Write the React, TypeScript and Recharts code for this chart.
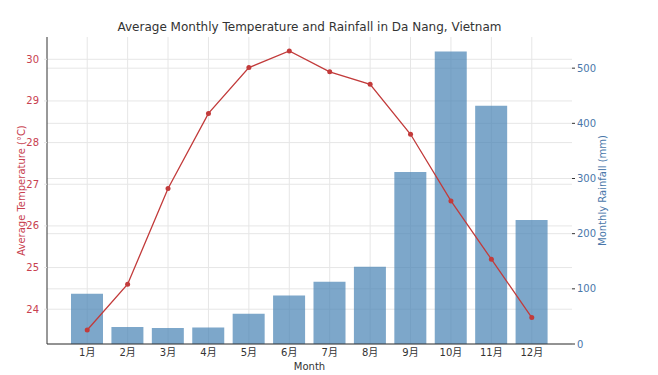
import { Bar, CartesianGrid, ComposedChart, Label, Line, XAxis, YAxis } from 'recharts'

const MONTHS = ['1月', '2月', '3月', '4月', '5月', '6月', '7月', '8月', '9月', '10月', '11月', '12月']
const TEMPERATURE = [23.5, 24.6, 26.9, 28.7, 29.8, 30.2, 29.7, 29.4, 28.2, 26.6, 25.2, 23.8]
const RAINFALL = [91, 31, 29, 30, 55, 88, 113, 140, 312, 530, 432, 225]
const TEMP_TICKS = [24, 25, 26, 27, 28, 29, 30]
const RAIN_TICKS = [0, 100, 200, 300, 400, 500]

const FONT = '"DejaVu Sans", "Noto Sans CJK SC", sans-serif'
const RED = '#c23b3b'
const RED_TEXT = '#c8414f'
const BLUE = '#4682b4'
const BLUE_TEXT = '#4a77aa'
const GRID = '#e6e6e6'
const INK = '#333333'

const data = MONTHS.map((month, i) => ({
  month,
  temp: TEMPERATURE[i],
  rain: RAINFALL[i]
}))

export default function App(): JSX.Element {
  return (
    <div style={{ position: 'absolute', left: 0, top: 0, width: 658, height: 375, background: '#fff', fontFamily: FONT }}>
      <div
        style={{
          position: 'absolute',
          left: 47,
          width: 525,
          top: 20,
          textAlign: 'center',
          fontSize: 12,
          color: '#333',
          whiteSpace: 'nowrap'
        }}
      >
        Average Monthly Temperature and Rainfall in Da Nang, Vietnam
      </div>
      <ComposedChart
        width={658}
        height={375}
        data={data}
        margin={{ top: 37, right: 0, bottom: 0, left: 0 }}
        style={{ fontFamily: FONT }}
      >
        <CartesianGrid yAxisId="temp" stroke={GRID} vertical horizontal syncWithTicks />
        <CartesianGrid yAxisId="rain" stroke={GRID} vertical={false} horizontal syncWithTicks />
        <XAxis
          dataKey="month"
          height={31}
          padding={{ left: 20, right: 20 }}
          axisLine={{ stroke: INK }}
          tickLine={false}
          tickSize={0}
          tickMargin={5}
          tick={{ fill: INK, fontSize: 10 }}
        >
          <Label value="Month" position="insideBottom" offset={5} style={{ fill: INK, fontSize: 10 }} />
        </XAxis>
        <YAxis
          yAxisId="temp"
          orientation="left"
          width={47}
          domain={[23.165, 30.535]}
          ticks={TEMP_TICKS}
          allowDataOverflow
          axisLine={{ stroke: INK }}
          tickLine={{ stroke: GRID }}
          tickSize={3}
          tickMargin={5}
          tick={{ fill: RED_TEXT, fontSize: 10 }}
        >
          <Label
            content={({ viewBox }: any) => {
              const cx = 22
              const cy = viewBox.y + viewBox.height / 2
              return (
                <text x={cx} y={cy} transform={`rotate(-90 ${cx} ${cy})`} textAnchor="middle" dominantBaseline="middle" fill={RED_TEXT} fontSize={10}>
                  Average Temperature (°C)
                </text>
              )
            }}
          />
        </YAxis>
        <YAxis
          yAxisId="rain"
          orientation="right"
          width={86}
          domain={[0, 556.5]}
          ticks={RAIN_TICKS}
          allowDataOverflow
          axisLine={false}
          tickLine={{ stroke: INK }}
          tickSize={3}
          tickMargin={2}
          tick={{ fill: BLUE_TEXT, fontSize: 10 }}
        >
          <Label
            content={({ viewBox }: any) => {
              const cx = 603
              const cy = viewBox.y + viewBox.height / 2
              return (
                <text x={cx} y={cy} transform={`rotate(-90 ${cx} ${cy})`} textAnchor="middle" dominantBaseline="middle" fill={BLUE_TEXT} fontSize={10}>
                  Monthly Rainfall (mm)
                </text>
              )
            }}
          />
        </YAxis>
        <Line
          yAxisId="temp"
          dataKey="temp"
          type="linear"
          stroke={RED}
          strokeWidth={1.3}
          dot={{ r: 2.5, fill: RED, stroke: RED, strokeWidth: 0 }}
          activeDot={false}
          isAnimationActive={false}
        />
        <Bar yAxisId="rain" dataKey="rain" barSize={32} fill={BLUE} fillOpacity={0.7} isAnimationActive={false} />
      </ComposedChart>
    </div>
  )
}
